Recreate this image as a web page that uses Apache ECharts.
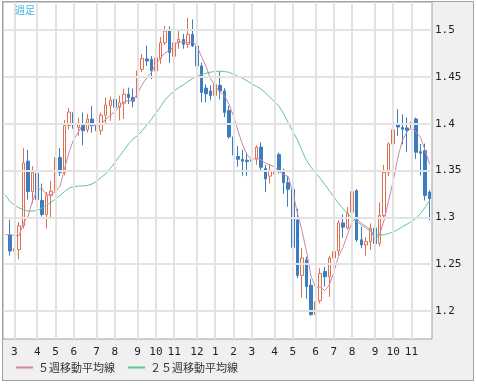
<!DOCTYPE html>
<html><head><meta charset="utf-8">
<script src="https://cdn.jsdelivr.net/npm/echarts@6/dist/echarts.min.js"></script>
<style>
html,body{margin:0;padding:0;background:#fff;}
#frame{position:absolute;left:2px;top:1px;width:470px;height:378px;border:1px solid #a0a0a0;background:#f0f0f0;}
#chart{position:absolute;left:0;top:0;width:477px;height:385px;}
</style></head><body>
<div id="frame"></div>
<div id="chart"></div>
<script>
const weeks = [
"2009/02/16","2009/02/23","2009/03/02","2009/03/09","2009/03/16","2009/03/23","2009/03/30","2009/04/06","2009/04/13","2009/04/20","2009/04/27",
"2009/05/04","2009/05/11","2009/05/18","2009/05/25","2009/06/01","2009/06/08","2009/06/15","2009/06/22","2009/06/29","2009/07/06","2009/07/13",
"2009/07/20","2009/07/27","2009/08/03","2009/08/10","2009/08/17","2009/08/24","2009/08/31","2009/09/07","2009/09/14","2009/09/21","2009/09/28",
"2009/10/05","2009/10/12","2009/10/19","2009/10/26","2009/11/02","2009/11/09","2009/11/16","2009/11/23","2009/11/30","2009/12/07","2009/12/14",
"2009/12/21","2009/12/28","2010/01/04","2010/01/11","2010/01/18","2010/01/25","2010/02/01","2010/02/08","2010/02/15","2010/02/22","2010/03/01",
"2010/03/08","2010/03/15","2010/03/22","2010/03/29","2010/04/05","2010/04/12","2010/04/19","2010/04/26","2010/05/03","2010/05/10","2010/05/17",
"2010/05/24","2010/05/31","2010/06/07","2010/06/14","2010/06/21","2010/06/28","2010/07/05","2010/07/12","2010/07/19","2010/07/26","2010/08/02",
"2010/08/09","2010/08/16","2010/08/23","2010/08/30","2010/09/06","2010/09/13","2010/09/20","2010/09/27","2010/10/04","2010/10/11","2010/10/18",
"2010/10/25","2010/11/01","2010/11/08","2010/11/15","2010/11/22","2010/11/29"];

const open = [null,
1.2810,1.2640,1.2655,1.2910,1.3600,1.3275,1.3470,1.3180,1.3030,1.3230,1.3280,1.3640,1.3480,1.3980,1.4120,1.3960,1.4000,1.3935,1.4050,1.3980,
1.3925,1.4090,1.4190,1.4260,1.4175,1.4220,1.4315,1.4280,1.4280,1.4580,1.4692,1.4688,1.4564,1.4700,1.4865,1.4990,1.4720,1.4865,1.4900,1.4848,
1.4954,1.4830,1.4617,1.4380,1.4350,1.4300,1.4410,1.4350,1.4140,1.3860,1.3650,1.3620,1.3610,1.3615,1.3620,1.3750,1.3520,1.3440,1.3460,1.3670,
1.3500,1.3370,1.3300,1.2970,1.2380,1.2545,1.2275,1.1960,1.2110,1.2420,1.2365,1.2565,1.2640,1.2940,1.2885,1.3055,1.3285,1.2760,1.2705,1.2740,
1.2885,1.2720,1.3020,1.3480,1.3784,1.3990,1.3960,1.3955,1.3943,1.4050,1.3700,1.3713,1.3269];

const high = [null,
1.2975,1.2730,1.2950,1.3740,1.3720,1.3545,1.3500,1.3360,1.3270,1.3390,1.3730,1.3740,1.4040,1.4170,1.4335,1.4065,1.4120,1.4105,1.4190,1.4060,
1.4120,1.4280,1.4290,1.4430,1.4300,1.4375,1.4385,1.4375,1.4600,1.4745,1.4835,1.4723,1.4795,1.4926,1.5043,1.5040,1.4918,1.5010,1.4960,1.5131,
1.5114,1.4880,1.4650,1.4420,1.4410,1.4460,1.4560,1.4380,1.4190,1.3960,1.3760,1.3720,1.3690,1.3720,1.3770,1.3800,1.3560,1.3570,1.3575,1.3690,
1.3520,1.3440,1.3330,1.3090,1.2670,1.2580,1.2340,1.2140,1.2460,1.2470,1.2590,1.2720,1.2970,1.3030,1.3110,1.3330,1.3300,1.2900,1.2790,1.2935,
1.2930,1.3160,1.3560,1.3800,1.4014,1.4156,1.4100,1.4067,1.4280,1.4067,1.3784,1.3787,1.3290];

const low = [null,
1.2590,1.2455,1.2550,1.2880,1.3190,1.3150,1.3140,1.3010,1.2880,1.2980,1.3180,1.3440,1.3450,1.3940,1.3770,1.3870,1.3770,1.3905,1.3905,1.3860,
1.3880,1.3995,1.4030,1.4070,1.4035,1.4050,1.4210,1.4175,1.4280,1.4550,1.4617,1.4476,1.4476,1.4640,1.4840,1.4650,1.4617,1.4800,1.4800,1.4810,
1.4820,1.4590,1.4227,1.4230,1.4250,1.4200,1.4260,1.4070,1.3840,1.3590,1.3540,1.3445,1.3440,1.3450,1.3560,1.3500,1.3270,1.3360,1.3270,1.3470,
1.3250,1.3115,1.2510,1.2350,1.2140,1.2130,1.1950,1.1880,1.2080,1.2260,1.2150,1.2510,1.2590,1.2780,1.2870,1.3040,1.2740,1.2670,1.2590,1.2650,
1.2640,1.2690,1.2990,1.3440,1.3700,1.3870,1.3780,1.3695,1.3900,1.3624,1.3447,1.3180,1.2968];

const close = [null,
1.2640,1.2665,1.2910,1.3580,1.3275,1.3480,1.3190,1.3030,1.3230,1.3280,1.3640,1.3480,1.3980,1.4125,1.3950,1.4005,1.3925,1.4050,1.3980,1.3925,
1.4090,1.4200,1.4250,1.4175,1.4225,1.4315,1.4280,1.4240,1.4565,1.4695,1.4670,1.4564,1.4705,1.4865,1.4990,1.4760,1.4865,1.4900,1.4848,1.4954,
1.4830,1.4617,1.4333,1.4320,1.4300,1.4420,1.4350,1.4120,1.3860,1.3665,1.3620,1.3600,1.3595,1.3600,1.3750,1.3535,1.3410,1.3500,1.3500,1.3500,
1.3370,1.3300,1.2680,1.2380,1.2565,1.2260,1.1960,1.2100,1.2400,1.2365,1.2565,1.2635,1.2940,1.2895,1.3045,1.3275,1.2760,1.2705,1.2740,1.2885,
1.2720,1.3020,1.3480,1.3784,1.3935,1.3965,1.3940,1.3930,1.4020,1.3695,1.3685,1.3234,1.3199];

const ma5 = [1.2815,
1.2815,1.2807,1.2801,1.2943,1.3014,1.3182,1.3287,1.3311,1.3241,1.3242,1.3274,1.3332,1.3522,1.3701,1.3835,1.3908,1.3997,1.4011,1.3982,1.3977,
1.3994,1.4049,1.4089,1.4128,1.4188,1.4233,1.4249,1.4247,1.4325,1.4419,1.4490,1.4547,1.4640,1.4700,1.4759,1.4777,1.4837,1.4876,1.4873,1.4865,
1.4879,1.4830,1.4716,1.4611,1.4480,1.4398,1.4345,1.4302,1.4210,1.4083,1.3923,1.3773,1.3668,1.3616,1.3633,1.3616,1.3578,1.3559,1.3539,1.3489,
1.3456,1.3434,1.3270,1.3046,1.2859,1.2637,1.2369,1.2253,1.2257,1.2217,1.2278,1.2413,1.2581,1.2680,1.2816,1.2958,1.2983,1.2936,1.2905,1.2873,
1.2762,1.2814,1.2969,1.3178,1.3388,1.3637,1.3821,1.3911,1.3958,1.3910,1.3854,1.3713,1.3567];

const ma25 = [1.3240,
1.3170,1.3131,1.3101,1.3080,1.3067,1.3067,1.3072,1.3096,1.3128,1.3160,1.3194,1.3236,1.3274,1.3312,1.3327,1.3333,1.3336,1.3340,1.3356,1.3383,
1.3426,1.3463,1.3520,1.3585,1.3651,1.3718,1.3783,1.3836,1.3875,1.3925,1.3985,1.4045,1.4115,1.4180,1.4255,1.4305,1.4350,1.4385,1.4415,1.4450,
1.4480,1.4508,1.4527,1.4539,1.4551,1.4559,1.4561,1.4557,1.4550,1.4527,1.4505,1.4484,1.4457,1.4426,1.4399,1.4372,1.4330,1.4282,1.4234,1.4186,
1.4106,1.4011,1.3915,1.3830,1.3713,1.3606,1.3536,1.3473,1.3417,1.3351,1.3284,1.3218,1.3151,1.3090,1.3043,1.2995,1.2957,1.2920,1.2883,1.2851,
1.2824,1.2809,1.2814,1.2827,1.2846,1.2867,1.2899,1.2926,1.2954,1.2989,1.3043,1.3106,1.3181];

const yTicks = [1.2, 1.25, 1.3, 1.35, 1.4, 1.45, 1.5];
const legendNames = ['５週移動平均線', '２５週移動平均線'];

const monthStart = weeks.map((w, k) => k > 0 && w.slice(5, 7) !== weeks[k - 1].slice(5, 7));
const candles = weeks.map((w, k) => open[k] == null ? '-' : [open[k], close[k], low[k], high[k]]);

const gridLines = [];
weeks.forEach((w, k) => { if (monthStart[k]) gridLines.push({ xAxis: w }); });
yTicks.forEach(v => gridLines.push({ yAxis: v }));

const chart = echarts.init(document.getElementById('chart'), null, { renderer: 'canvas' });
chart.setOption({
  animation: false,
  grid: { left: 3, top: 2, width: 429, height: 337, show: true, backgroundColor: '#ffffff', borderColor: '#a0a0a0', borderWidth: 1 },
  xAxis: {
    type: 'category', data: weeks, boundaryGap: true,
    axisLine: { show: false }, axisTick: { show: false }, splitLine: { show: false },
    axisLabel: {
      interval: (k) => monthStart[k],
      formatter: (v) => String(parseInt(v.slice(5, 7), 10)),
      color: '#222', fontSize: 11, fontFamily: 'DejaVu Sans Mono', margin: 8
    }
  },
  yAxis: {
    type: 'value', position: 'right', min: 1.17, max: 1.53,
    axisLine: { show: false }, axisTick: { show: false }, splitLine: { show: false },
    axisLabel: {
      customValues: yTicks,
      formatter: (v) => String(Math.round(v * 100) / 100),
      color: '#222', fontSize: 11, fontFamily: 'DejaVu Sans Mono', margin: 3
    }
  },
  legend: {
    left: 16, top: 362, padding: 0, itemWidth: 17, itemHeight: 2, itemGap: 13, icon: 'rect',
    selectedMode: false, data: legendNames,
    textStyle: { fontSize: 11, fontFamily: 'Noto Sans CJK JP', color: '#333' }
  },
  graphic: [{
    type: 'text', left: 15, top: 5, z: 100,
    style: { text: '週足', fill: '#3ab4e6', fontSize: 10, fontFamily: 'Noto Sans CJK JP' }
  }],
  series: [
    {
      type: 'line', name: 'gridlines', data: [], z: 1, silent: true,
      markLine: {
        silent: true, symbol: ['none', 'none'], label: { show: false }, animation: false,
        lineStyle: { color: '#e3e3e3', width: 2, type: 'solid' },
        emphasis: { disabled: true },
        data: gridLines
      }
    },
    {
      type: 'candlestick', name: 'weekly', data: candles, barWidth: 3, z: 2,
      itemStyle: { color: '#ffffff', color0: '#3b7dc0', borderColor: '#e2704f', borderColor0: '#3b7dc0', borderWidth: 1 },
      emphasis: { disabled: true }
    },
    {
      type: 'line', name: legendNames[0], data: ma5, z: 3, showSymbol: false, symbol: 'none',
      color: '#d084a8', lineStyle: { width: 1, color: '#d084a8' }, emphasis: { disabled: true }
    },
    {
      type: 'line', name: legendNames[1], data: ma25, z: 3, showSymbol: false, symbol: 'none',
      color: '#5cc98f', lineStyle: { width: 1, color: '#5cc98f' }, emphasis: { disabled: true }
    }
  ]
});
</script>
</body></html>
